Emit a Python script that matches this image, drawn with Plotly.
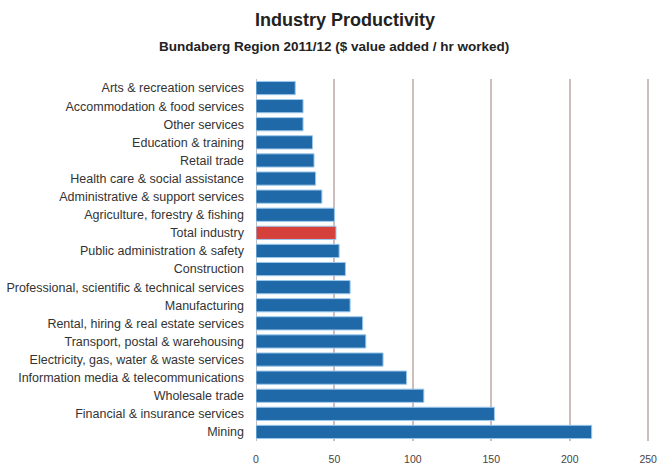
import plotly.graph_objects as go

# Industry labels, listed from top to bottom of the chart
industries = [
    "Arts & recreation services",
    "Accommodation & food services",
    "Other services",
    "Education & training",
    "Retail trade",
    "Health care & social assistance",
    "Administrative & support services",
    "Agriculture, forestry & fishing",
    "Total industry",
    "Public administration & safety",
    "Construction",
    "Professional, scientific & technical services",
    "Manufacturing",
    "Rental, hiring & real estate services",
    "Transport, postal & warehousing",
    "Electricity, gas, water & waste services",
    "Information media & telecommunications",
    "Wholesale trade",
    "Financial & insurance services",
    "Mining",
]

# Value added per hour worked ($)
value_per_hour = [25, 30, 30, 36, 37, 38, 42, 50, 51, 53, 57, 60, 60, 68, 70, 81, 96, 107, 152, 214]

tick_values = [0, 50, 100, 150, 200, 250]
tick_labels = ["0", "50", "100", "150", "200", "250"]

BLUE = "#1f69a8"
RED = "#d6403a"
colors = [RED if name == "Total industry" else BLUE for name in industries]

MARGIN_L, MARGIN_R, MARGIN_T, MARGIN_B = 256, 6, 79, 32
WIDTH, HEIGHT = 662, 473
plot_w = WIDTH - MARGIN_L - MARGIN_R
plot_h = HEIGHT - MARGIN_T - MARGIN_B


def heading(text, center_px, top_px, size, bold):
    """Heading line positioned by pixel centre within the page."""
    return dict(
        text=f"<b>{text}</b>" if bold else text,
        x=(center_px - MARGIN_L) / plot_w,
        y=1 + (MARGIN_T - top_px) / plot_h,
        xref="paper", yref="paper",
        xanchor="center", yanchor="middle",
        showarrow=False,
        font=dict(size=size, color="#222222"),
    )


fig = go.Figure(
    go.Bar(
        x=value_per_hour,
        y=industries,
        orientation="h",
        marker=dict(color=colors, line=dict(color="#9cc8ec", width=1)),
        hoverinfo="x+y",
    )
)

fig.update_layout(
    width=WIDTH,
    height=HEIGHT,
    margin=dict(l=MARGIN_L, r=MARGIN_R, t=MARGIN_T, b=MARGIN_B),
    paper_bgcolor="white",
    plot_bgcolor="white",
    bargap=0.27,
    showlegend=False,
    font=dict(family="Liberation Sans, Arial, sans-serif", color="#333333"),
    annotations=[
        heading("Industry Productivity", 345, 20, 18, True),
        heading("Bundaberg Region 2011/12 ($ value added / hr worked)", 334, 46, 13.5, True),
    ],
)

fig.update_xaxes(
    range=[0, 255],
    tickvals=tick_values,
    ticktext=tick_labels,
    showgrid=True,
    gridcolor="#cdbdbd",
    gridwidth=1.5,
    zeroline=True,
    zerolinecolor="#c0c0c0",
    zerolinewidth=1,
    tickfont=dict(size=10.5, color="#444444"),
    ticks="",
    ticklabelstandoff=10,
)

fig.update_yaxes(
    autorange="reversed",
    tickfont=dict(size=12.5, color="#333333"),
    ticks="",
    ticklabelstandoff=11,
    showgrid=False,
)

fig.write_html("out.html")
